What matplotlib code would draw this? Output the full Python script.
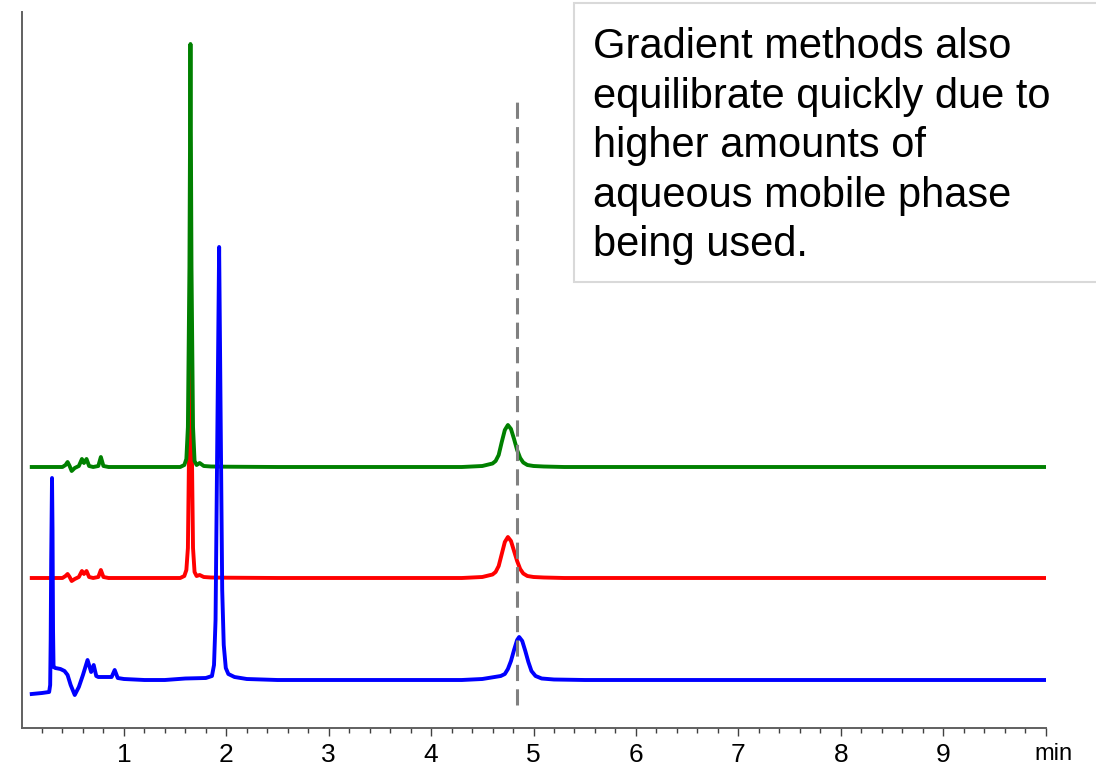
#!/usr/bin/env python3
"""Stacked gradient chromatograms (three runs) with retention marker and note box."""

import matplotlib.pyplot as plt
from matplotlib.patches import Rectangle
from matplotlib.transforms import ScaledTranslation

plt.rcParams["font.family"] = ["Liberation Sans", "DejaVu Sans"]

# Run 1 (blue): time (min) and signal above its own baseline (mAU)
blue_t = [0.10, 0.20, 0.27, 0.28, 0.285, 0.29, 0.298, 0.303, 0.308, 0.313,
          0.33, 0.38, 0.42, 0.45, 0.48, 0.52, 0.56, 0.60, 0.645, 0.68,
          0.705, 0.73, 0.75, 0.82, 0.88, 0.91, 0.94, 1.00, 1.20, 1.40,
          1.60, 1.80, 1.86, 1.88, 1.895, 1.91, 1.93, 1.945, 1.96, 1.975,
          1.995, 2.02, 2.08, 2.20, 2.50, 4.30, 4.50, 4.62, 4.68, 4.72,
          4.75, 4.78, 4.81, 4.84, 4.86, 4.89, 4.92, 4.95, 4.98, 5.02,
          5.08, 5.20, 5.50, 10.0]
blue_s = [-14, -13, -12, -5, 40, 120, 202, 150, 50, 13,
          12, 11, 9, 5, -5, -15, -7, 5, 20, 8,
          15, 4, 3, 3, 3, 10, 2, 1, 0, 0,
          1.5, 2, 4, 15, 60, 220, 433, 260, 90, 35,
          12, 6, 3, 1, 0, 0, 1, 3, 4, 6,
          11, 19, 30, 40, 43, 39, 29, 18, 9, 4,
          1.5, 0.5, 0, 0]

# Runs 2 (red) and 3 (green) share the same time grid
rg_t = [0.10, 0.40, 0.43, 0.45, 0.47, 0.49, 0.52, 0.56, 0.59, 0.61,
        0.635, 0.66, 0.70, 0.75, 0.775, 0.80, 0.85, 1.20, 1.55, 1.59,
        1.61, 1.625, 1.64, 1.65, 1.66, 1.675, 1.69, 1.71, 1.74, 1.78,
        1.85, 2.00, 2.50, 4.30, 4.50, 4.60, 4.63, 4.66, 4.69, 4.72,
        4.75, 4.78, 4.81, 4.84, 4.87, 4.90, 4.94, 5.00, 5.10, 5.30,
        10.0]
red_s = [0, 0, 2, 4, 1, -3, -1, 1, 7, 4,
         7, 1, 0, 1, 8, 1, 0, 0, 0, 2,
         8, 30, 160, 320, 160, 30, 6, 2, 3, 1,
         0.5, 0.3, 0, 0, 1, 3.5, 6, 12, 24, 36,
         41, 37, 27, 17, 9, 4.5, 2, 1, 0.5, 0,
         0]
green_s = [0, 0, 2, 5, 1, -4, -1, 1, 8, 4,
           8, 1, 0, 1, 10, 1, 0, 0, 0, 2,
           8, 40, 200, 423, 200, 40, 6, 2, 4, 1,
           0.5, 0.3, 0, 0, 1, 3.5, 6, 12, 25, 37,
           42, 38, 28, 17, 9, 4.5, 2, 1, 0.5, 0,
           0]

marker_t = 4.84           # retention-time reference (min)
marker_span = (23, 628)   # vertical extent of the reference line (mAU)

tick_pos = [1, 2, 3, 4, 5, 6, 7, 8, 9, 10]
tick_txt = ["1", "2", "3", "4", "5", "6", "7", "8", "9", "min"]

note = ("Gradient methods also\nequilibrate quickly due to\nhigher amounts of\n"
        "aqueous mobile phase\nbeing used.")

# stacking offsets for display
offsets = {"blue": 48, "red": 150, "green": 261}

W, H = 1096, 770
fig = plt.figure(figsize=(W / 100, H / 100), dpi=100)
ax = fig.add_axes([21.5 / W, 42 / H, 1024 / W, 716 / H])

lw = 2.8
ax.plot(rg_t, [v + offsets["red"] for v in red_s], color="#ff0000", lw=lw,
        solid_joinstyle="round", zorder=2)
ax.plot(rg_t, [v + offsets["green"] for v in green_s], color="#008000", lw=lw,
        solid_joinstyle="round", zorder=3)
ax.plot(blue_t, [v + offsets["blue"] for v in blue_s], color="#0000ff", lw=lw,
        solid_joinstyle="round", zorder=4)

ax.vlines(marker_t, *marker_span, colors="#808080", lw=2.2,
          linestyles=(0, (5.3, 2.7)), zorder=5)

ax.set_xlim(0, 10)
ax.set_ylim(0, 716)

for side in ("top", "right"):
    ax.spines[side].set_visible(False)
for side in ("left", "bottom"):
    ax.spines[side].set_color("#606060")
    ax.spines[side].set_linewidth(1.4)

ax.set_yticks([])
ax.set_xticks(tick_pos)
ax.set_xticklabels(tick_txt)
ax.set_xticks([x / 5 for x in range(1, 50) if x % 5], minor=True)
ax.tick_params(axis="x", which="major", length=6, width=1, color="#404040",
               labelsize=19, pad=5)
ax.tick_params(axis="x", which="minor", length=3.5, width=1, color="#404040")
unit_lbl = ax.get_xticklabels()[-1]
unit_lbl.set_fontsize(17)
unit_lbl.set_transform(unit_lbl.get_transform()
                       + ScaledTranslation(0.08, 0, fig.dpi_scale_trans))

fig.add_artist(Rectangle((574 / W, (H - 282) / H), 600 / W, 279 / H,
                         transform=fig.transFigure, facecolor="white",
                         edgecolor="#d9d9d9", lw=1.5, zorder=6))
fig.text(593 / W, 1 - 27 / H, note, fontsize=30, va="top", ha="left",
         linespacing=1.31, zorder=7)

fig.savefig("out.png", dpi=100)
